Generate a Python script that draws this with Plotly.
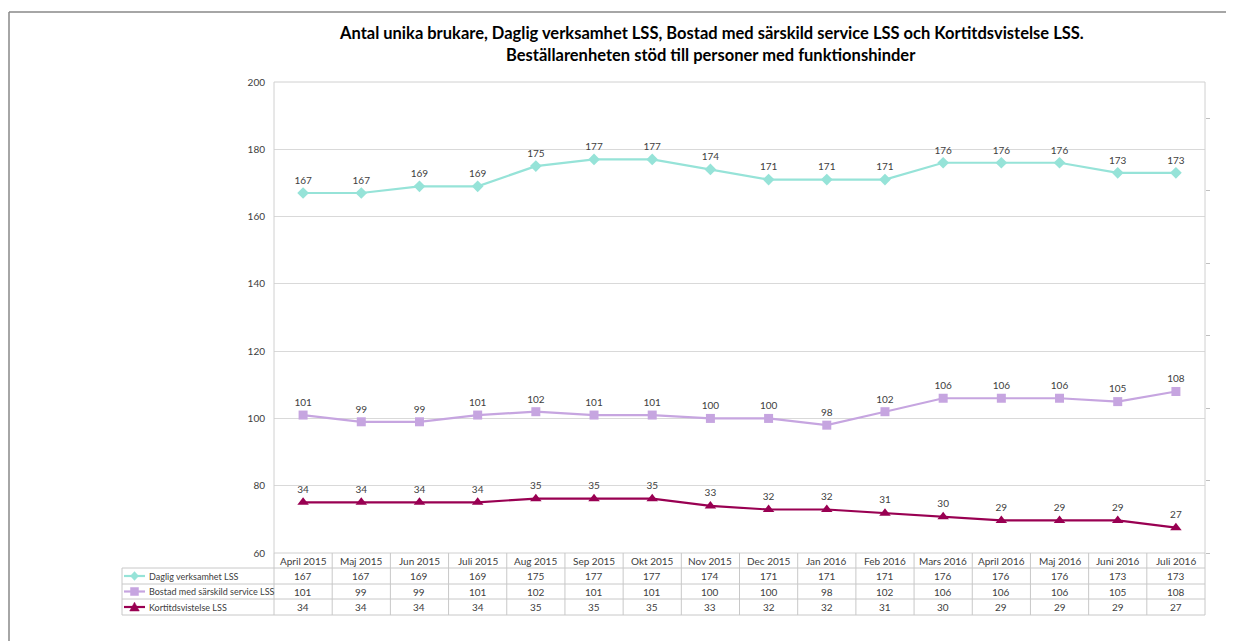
import plotly.graph_objects as go

categories = ["April 2015", "Maj 2015", "Jun 2015", "Juli 2015", "Aug 2015", "Sep 2015",
              "Okt 2015", "Nov 2015", "Dec 2015", "Jan 2016", "Feb 2016", "Mars 2016",
              "April 2016", "Maj 2016", "Juni 2016", "Juli 2016"]
daglig = [167, 167, 169, 169, 175, 177, 177, 174, 171, 171, 171, 176, 176, 176, 173, 173]
bostad = [101, 99, 99, 101, 102, 101, 101, 100, 100, 98, 102, 106, 106, 106, 105, 108]
kortids = [34, 34, 34, 34, 35, 35, 35, 33, 32, 32, 31, 30, 29, 29, 29, 27]

series_names = ["Daglig verksamhet LSS", "Bostad med särskild service LSS", "Kortitdsvistelse LSS"]
series_values = [daglig, bostad, kortids]
colors = ["#96E3D8", "#C6A5E0", "#990052"]
symbols = ["diamond", "square", "triangle-up"]

title_lines = ["Antal unika brukare, Daglig verksamhet LSS, Bostad med särskild service LSS och Kortitdsvistelse LSS.",
               "Beställarenheten stöd till personer med funktionshinder"]

W, H = 1234, 641
OFF = 8  # page offset of the figure in the browser
L, R, T, B = 274, 1205, 82, 553  # plot area in screen pixels
FONT = "Lato"
TXT = "#404040"
GRID = "#D9D9D9"


def px_x(px):
    return (px - L) / (R - L)


def px_y(py):
    return (B - py) / (B - T)


fig = go.Figure()
for i, (name, vals) in enumerate(zip(series_names, series_values)):
    fig.add_trace(go.Scatter(
        x=list(range(len(categories))), y=vals, name=name,
        mode="lines+markers+text",
        text=[str(v) for v in vals], textposition="top center",
        textfont=dict(family=FONT, size=10, color=TXT),
        line=dict(color=colors[i], width=2.2),
        marker=dict(symbol=symbols[i], size=9 if i < 2 else 10, color=colors[i]),
        yaxis="y2" if i == 2 else "y",
        cliponaxis=False, showlegend=False,
    ))

shapes = []
annotations = []

# outer frame (top and left edges only are visible)
frame = dict(color="#888888", width=1.5)
shapes.append(dict(type="line", xref="paper", yref="paper",
                   x0=px_x(9), x1=px_x(1300), y0=px_y(12), y1=px_y(12), line=frame, layer="below"))
shapes.append(dict(type="line", xref="paper", yref="paper",
                   x0=px_x(9), x1=px_x(9), y0=px_y(12), y1=px_y(700), line=frame, layer="below"))
# plot area border
shapes.append(dict(type="rect", xref="paper", yref="paper", x0=0, x1=1, y0=0, y1=1,
                   line=dict(color="#D0D0D0", width=1)))

# data table
n = len(categories)
colw = (R - L) / n
tline = dict(color="#C8C8C8", width=1)
for py in [568, 584, 599, 615]:
    shapes.append(dict(type="line", xref="paper", yref="paper", x0=px_x(122), x1=1,
                       y0=px_y(py), y1=px_y(py), line=tline))
shapes.append(dict(type="line", xref="paper", yref="paper", x0=px_x(122), x1=px_x(122),
                   y0=px_y(568), y1=px_y(615), line=tline))
for i in range(n + 1):
    xx = px_x(L + i * colw)
    shapes.append(dict(type="line", xref="paper", yref="paper", x0=xx, x1=xx,
                       y0=px_y(553), y1=px_y(615), line=tline))

header_y = px_y(561)
row_ys = [px_y(576), px_y(591.5), px_y(607)]
for i, c in enumerate(categories):
    annotations.append(dict(x=i, xref="x", y=header_y, yref="paper", text=c, showarrow=False,
                            font=dict(family=FONT, size=10, color=TXT), xanchor="center", yanchor="middle"))
for r, vals in enumerate(series_values):
    for i, v in enumerate(vals):
        annotations.append(dict(x=i, xref="x", y=row_ys[r], yref="paper", text=str(v), showarrow=False,
                                font=dict(family=FONT, size=10, color=TXT), xanchor="center", yanchor="middle"))
    # legend key
    cy = row_ys[r]
    shapes.append(dict(type="line", xref="paper", yref="paper", x0=px_x(124), x1=px_x(145),
                       y0=cy, y1=cy, line=dict(color=colors[r], width=2.2)))
    cx = px_x(134.5)
    dx = 4 / (R - L)
    dy = 4 / (B - T)
    if r == 0:
        path = f"M {cx-dx},{cy} L {cx},{cy+dy*1.1} L {cx+dx},{cy} L {cx},{cy-dy*1.1} Z"
    elif r == 1:
        path = f"M {cx-dx},{cy-dy} L {cx-dx},{cy+dy} L {cx+dx},{cy+dy} L {cx+dx},{cy-dy} Z"
    else:
        path = f"M {cx-dx*1.2},{cy-dy} L {cx},{cy+dy*1.2} L {cx+dx*1.2},{cy-dy} Z"
    shapes.append(dict(type="path", xref="paper", yref="paper", path=path,
                       fillcolor=colors[r], line=dict(color=colors[r], width=0.5)))
    annotations.append(dict(x=px_x(147), xref="paper", y=cy, yref="paper", text=series_names[r],
                            showarrow=False, font=dict(family=FONT, size=9, color=TXT),
                            xanchor="left", yanchor="middle"))

# title
for k, (line, py) in enumerate(zip(title_lines, [33, 55])):
    annotations.append(dict(x=px_x(711), xref="paper", y=px_y(py), yref="paper",
                            text=f"<b>{line}</b>", showarrow=False,
                            font=dict(family=FONT, size=16.5, color="#000000"),
                            xanchor="center", yanchor="middle"))

fig.update_layout(
    width=W, height=H,
    margin=dict(l=L - OFF, r=W - (R - OFF), t=T - OFF, b=H - (B - OFF)),
    paper_bgcolor="white", plot_bgcolor="white",
    font=dict(family=FONT, size=10, color=TXT),
    xaxis=dict(range=[-0.5, n - 0.5], showticklabels=False, showgrid=False, zeroline=False,
               ticks="", fixedrange=True),
    yaxis=dict(range=[60, 200], dtick=20, showgrid=True, gridcolor=GRID, gridwidth=1,
               zeroline=False, ticks="", tickfont=dict(family=FONT, size=10, color=TXT),
               ticklabelstandoff=8),
    yaxis2=dict(range=[20, 150], dtick=20, overlaying="y", side="right", showgrid=False,
                zeroline=False, showticklabels=False, ticks="outside", ticklen=4,
                tickcolor="#BFBFBF", showline=False),
    shapes=shapes, annotations=annotations,
)

fig.write_html("out.html")
